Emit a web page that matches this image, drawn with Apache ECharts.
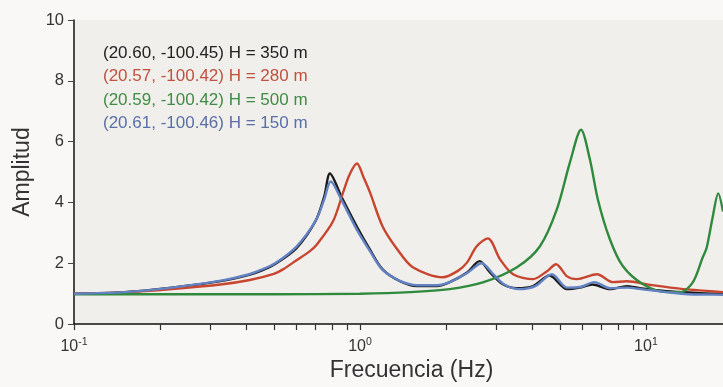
<!DOCTYPE html>
<html>
<head>
<meta charset="utf-8">
<script src="https://cdn.jsdelivr.net/npm/echarts@6/dist/echarts.min.js"></script>
<style>html,body{margin:0;padding:0;background:#f9f8f6;}#c{width:723px;height:387px;}</style>
</head>
<body>
<div id="c"></div>
<script>
const seriesNames = [
  '(20.60, -100.45) H = 350 m',
  '(20.57, -100.42) H = 280 m',
  '(20.59, -100.42) H = 500 m',
  '(20.61, -100.46) H = 150 m'
];
const xMajorTicks = [0.1, 1, 10];
const xMinorTicks = [0.1,0.2,0.3,0.4,0.5,0.6,0.7,0.8,0.9,1,2,3,4,5,6,7,8,9,10];
const yTicks = [0, 2, 4, 6, 8, 10];

const freqBlack = [0.1,0.15,0.22,0.33,0.41,0.45,0.505,0.6,0.7,0.75,0.785,0.865,0.976,1.084,1.2,1.38,1.58,1.86,2.06,2.37,2.62,2.85,3.16,3.53,4.03,4.6,5.3,5.86,6.5,7.48,8.57,9.5,11.8,18.6];
const ampBlack  = [1.0,1.05,1.2,1.42,1.62,1.75,1.98,2.5,3.4,4.2,4.95,4.15,3.2,2.45,1.8,1.41,1.25,1.25,1.38,1.7,2.07,1.7,1.31,1.18,1.25,1.6,1.15,1.2,1.3,1.15,1.25,1.18,1.08,0.98];

const freqRed = [0.1,0.15,0.22,0.33,0.412,0.5,0.538,0.6,0.668,0.707,0.805,0.873,0.92,0.976,1.03,1.084,1.2,1.35,1.53,1.95,2.2,2.37,2.56,2.8,3.09,3.43,4.03,4.51,4.85,5.3,5.74,6.74,7.67,8.57,10.5,13.5,18.6];
const ampRed  = [1.0,1.04,1.15,1.31,1.45,1.65,1.8,2.1,2.4,2.62,3.38,4.33,4.92,5.28,4.82,4.33,3.21,2.46,1.87,1.54,1.75,2.03,2.56,2.82,2.13,1.64,1.48,1.74,1.97,1.57,1.48,1.64,1.38,1.41,1.28,1.15,1.05];

const freqGreen = [0.1,0.5,1.0,1.5,2.06,2.69,3.54,4.26,4.88,5.42,5.93,6.37,6.79,7.48,8.31,9.77,11.8,13.2,14.6,15.8,16.3,17.1,17.9,18.6];
const ampGreen  = [0.98,0.98,1.0,1.05,1.15,1.37,1.87,2.56,3.77,5.31,6.39,5.41,4.1,2.79,1.9,1.31,1.05,1.05,1.38,2.2,2.5,3.5,4.3,3.7];

const freqBlue = [0.1,0.15,0.22,0.33,0.41,0.45,0.505,0.6,0.7,0.75,0.79,0.865,0.976,1.084,1.2,1.38,1.58,1.86,2.06,2.37,2.67,2.9,3.2,3.6,4.1,4.69,5.3,5.9,6.6,7.5,8.6,9.6,11.8,14,18.6];
const ampBlue  = [1.0,1.05,1.2,1.44,1.64,1.78,2.0,2.55,3.4,4.1,4.69,4.05,3.1,2.4,1.78,1.42,1.28,1.28,1.38,1.68,2.0,1.68,1.3,1.15,1.25,1.64,1.2,1.22,1.38,1.18,1.2,1.15,1.05,0.98,0.97];

const lineColors = ['#1c1c1c', '#c8452f', '#2f8a3c', '#6282c4'];
const textColors = ['#222222', '#c0513f', '#3f8c45', '#5a6ea8'];

function pairs(xs, ys) { return xs.map((x, i) => [x, ys[i]]); }
const allData = [pairs(freqBlack, ampBlack), pairs(freqRed, ampRed), pairs(freqGreen, ampGreen), pairs(freqBlue, ampBlue)];

const supLabels = ['-1', '0', '1'];
const chart = echarts.init(document.getElementById('c'), null, {renderer: 'canvas'});
chart.setOption({
  backgroundColor: '#f9f8f6',
  animation: false,
  textStyle: {fontFamily: 'Liberation Sans'},
  grid: {left: 74, right: 0, top: 20, bottom: 62, show: true, backgroundColor: '#f1efec', borderWidth: 0},
  legend: {
    orient: 'vertical', left: 98, top: 43, padding: 0,
    icon: 'none', itemWidth: 0, itemHeight: 14, itemGap: 3.5,
    selectedMode: false,
    textStyle: {fontSize: 17, lineHeight: 20, fontFamily: 'Liberation Sans'},
    data: seriesNames.map((n, i) => ({name: n, textStyle: {color: textColors[i]}}))
  },
  xAxis: {
    type: 'log', logBase: 10, min: 0.1, max: 18.6,
    name: 'Frecuencia (Hz)', nameLocation: 'middle', nameGap: 32,
    nameTextStyle: {fontSize: 23, color: '#333', padding: [0, 0, 0, 26]},
    axisLine: {lineStyle: {color: '#111', width: 1.5}},
    axisTick: {show: true, inside: false, length: 6, customValues: xMinorTicks, lineStyle: {color: '#333', width: 1.2}},
    axisLabel: {
      customValues: xMajorTicks, margin: 13, color: '#333',
      formatter: v => {
        const idx = xMajorTicks.findIndex(t => Math.abs(t - v) / t < 1e-6);
        return '{b|10}{s|' + (idx >= 0 ? supLabels[idx] : '') + '}';
      },
      rich: {
        b: {fontSize: 16, lineHeight: 18, color: '#333', fontFamily: 'Liberation Sans'},
        s: {fontSize: 10.5, lineHeight: 18, verticalAlign: 'top', color: '#333', fontFamily: 'Liberation Sans', padding: [0,0,6,0]}
      }
    },
    splitLine: {show: false}
  },
  yAxis: {
    type: 'value', min: 0, max: 10, interval: 2,
    name: 'Amplitud', nameLocation: 'middle', nameGap: 40,
    nameTextStyle: {fontSize: 23, color: '#333'},
    axisLine: {show: true, lineStyle: {color: '#111', width: 1.5}},
    axisTick: {show: true, inside: false, length: 6, lineStyle: {color: '#444'}},
    axisLabel: {fontSize: 16.5, color: '#333', margin: 10},
    splitLine: {show: false}
  },
  series: allData.map((d, i) => ({
    name: seriesNames[i], type: 'line', data: d, showSymbol: false, symbol: 'none',
    smooth: 0.3, clip: true,
    lineStyle: {color: lineColors[i], width: 2.4},
    itemStyle: {color: lineColors[i]},
    z: 2 + i
  }))
});
</script>
</body>
</html>
